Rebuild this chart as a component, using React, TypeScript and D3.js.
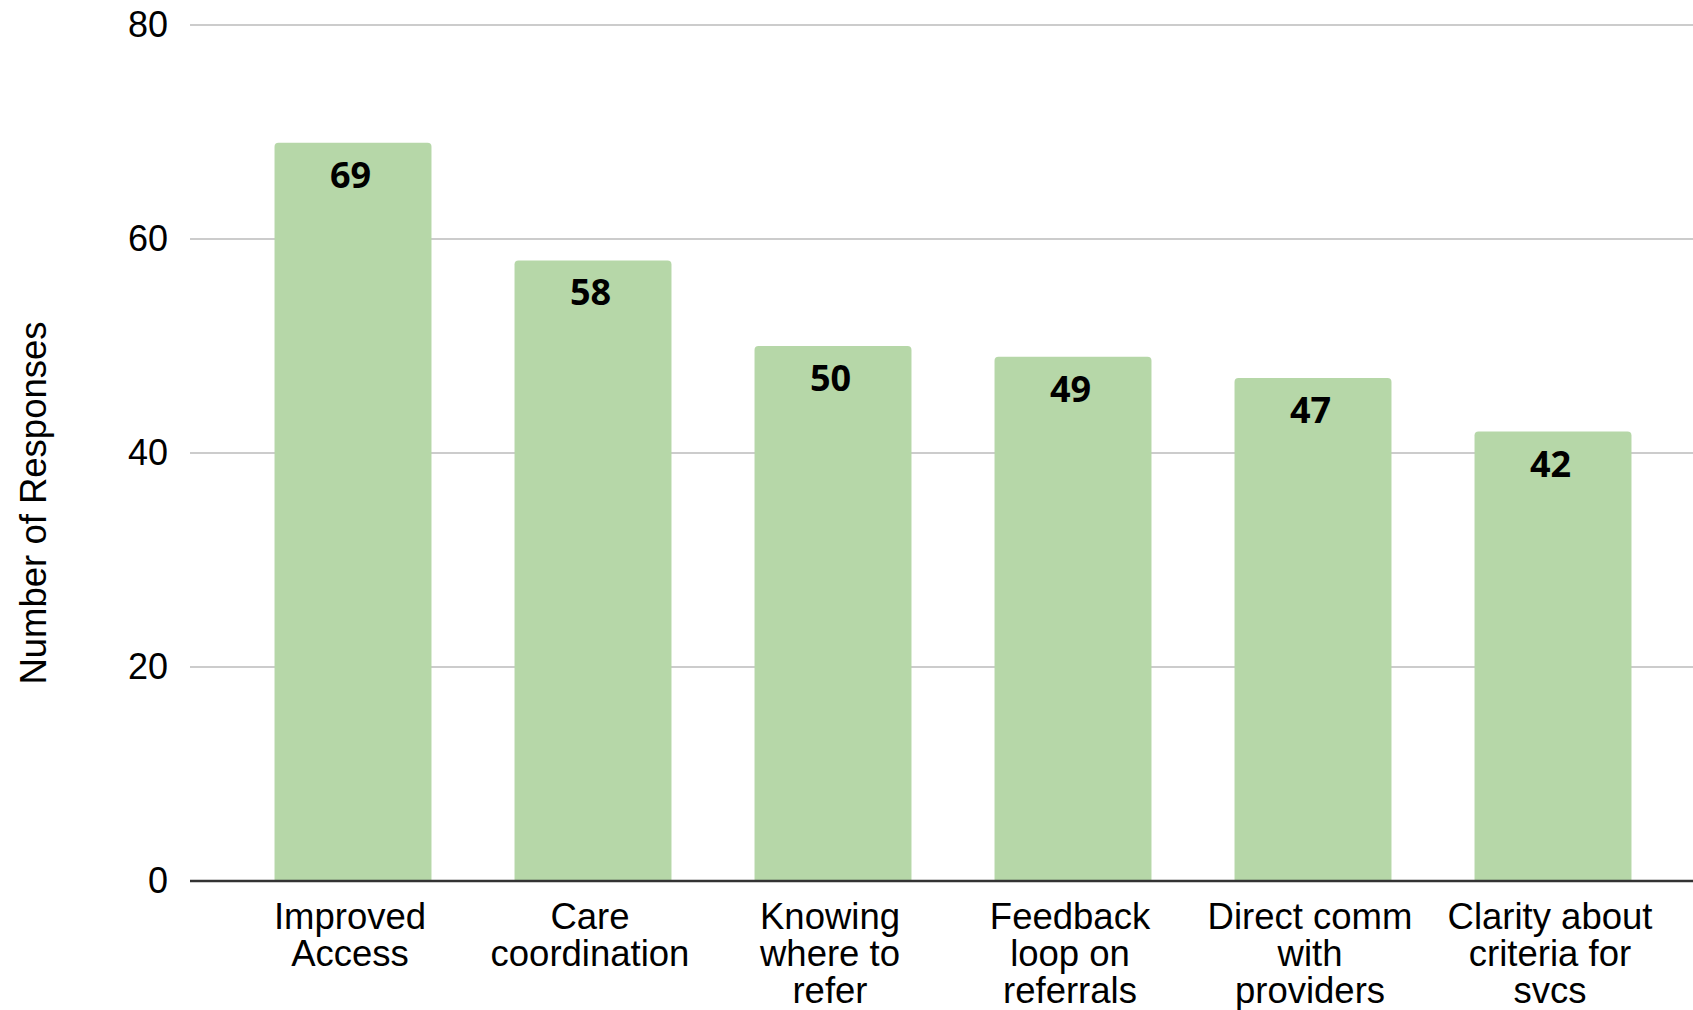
import { useMemo } from "react";
import * as d3 from "d3";

// Survey counts per improvement area
const categories = [
  "Improved\nAccess",
  "Care\ncoordination",
  "Knowing\nwhere to\nrefer",
  "Feedback\nloop on\nreferrals",
  "Direct comm\nwith\nproviders",
  "Clarity about\ncriteria for\nsvcs",
];
const responses = [69, 58, 50, 49, 47, 42];
const yTicks = [0, 20, 40, 60, 80];
const yTitle = "Number of Responses";

const W = 1693;
const H = 1010;
const BAR = "#b6d7a8";
const SANS = "'Liberation Sans', Arial, sans-serif";

export default function App() {
  const x = useMemo(
    () =>
      d3
        .scaleBand<number>()
        .domain(d3.range(categories.length))
        .range([233, 1673])
        .paddingInner(0.346)
        .paddingOuter(0.173),
    []
  );
  const y = useMemo(() => d3.scaleLinear().domain([0, 80]).range([881, 25]), []);

  const bw = x.bandwidth();
  const r = 4;

  // bar with rounded top corners only
  const barPath = (x0: number, y0: number, w: number, y1: number) => {
    const p = d3.path();
    p.moveTo(x0, y1);
    p.lineTo(x0, y0 + r);
    p.arcTo(x0, y0, x0 + r, y0, r);
    p.lineTo(x0 + w - r, y0);
    p.arcTo(x0 + w, y0, x0 + w, y0 + r, r);
    p.lineTo(x0 + w, y1);
    p.closePath();
    return p.toString();
  };

  return (
    <svg
      width={W}
      height={H}
      style={{ position: "absolute", left: 0, top: 0, background: "#fff" }}
    >
      {/* gridlines */}
      {yTicks.map((t) => (
        <g key={t}>
          {t !== 0 && (
            <line x1={190} x2={W} y1={y(t)} y2={y(t)} stroke="#cccccc" strokeWidth={2} />
          )}
          <text
            x={168}
            y={y(t) + 12}
            textAnchor="end"
            fontFamily={SANS}
            fontSize={36}
            fill="#000"
          >
            {t}
          </text>
        </g>
      ))}

      {/* bars */}
      {responses.map((v, i) => {
        const bx = x(i)!;
        return (
          <g key={i}>
            <path d={barPath(bx, y(v), bw, y(0))} fill={BAR} />
            <text
              x={bx + bw / 2 - 2.5}
              y={y(v) + 45}
              textAnchor="middle"
              fontFamily="'Open Sans', sans-serif"
              fontWeight={700}
              fontSize={36}
              fill="#000"
            >
              {v}
            </text>
          </g>
        );
      })}

      {/* zero line */}
      <line x1={190} x2={W} y1={y(0)} y2={y(0)} stroke="#333333" strokeWidth={2.5} />

      {/* category labels */}
      {categories.map((c, i) => {
        const cx = x(i)! + bw / 2 - 3;
        return (
          <text
            key={c}
            x={cx}
            y={929}
            textAnchor="middle"
            fontFamily={SANS}
            fontSize={36.5}
            fill="#000"
          >
            {c.split("\n").map((ln, j) => (
              <tspan key={j} x={cx} dy={j === 0 ? 0 : 37}>
                {ln}
              </tspan>
            ))}
          </text>
        );
      })}

      {/* y axis title */}
      <text
        transform={`translate(46,503) rotate(-90)`}
        textAnchor="middle"
        fontFamily={SANS}
        fontSize={36.5}
        fill="#000"
      >
        {yTitle}
      </text>
    </svg>
  );
}
